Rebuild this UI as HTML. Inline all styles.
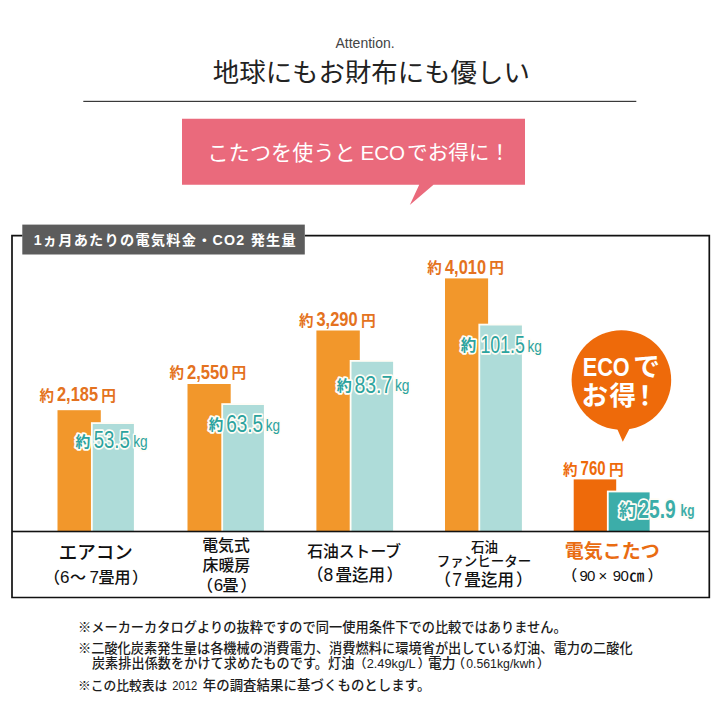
<!DOCTYPE html>
<html lang="ja"><head><meta charset="utf-8"><title>ECO</title>
<style>
html,body{margin:0;padding:0;background:#fff;}
body{width:720px;height:720px;position:relative;overflow:hidden;font-family:"Liberation Sans",sans-serif;}
.t{position:absolute;color:transparent;white-space:nowrap;overflow:hidden;line-height:1;font-family:"Liberation Sans",sans-serif;}
svg text{font-family:"Liberation Sans","Noto Sans CJK JP",sans-serif;}
.halo{paint-order:stroke;stroke:#fffdf6;stroke-width:3.6;stroke-linejoin:round;}
</style></head><body>
<svg width="720" height="720" viewBox="0 0 720 720" style="position:absolute;left:0;top:0;display:block">
<text x="335.5" y="47.5" font-size="14" fill="#444">Attention.</text>
<text x="212.8" y="82.4" font-size="26.4" fill="#222" textLength="317" lengthAdjust="spacing">地球にもお財布にも優しい</text>
<rect x="83.3" y="100.8" width="553" height="1.2" fill="#3a3a3a"/>
<path d="M182 118.7H525V184.7H433.5L409.8 205L419.2 184.7H182Z" fill="#ea6a7c"/>
<text x="207.6" y="160.4" font-size="21" fill="#fff" textLength="148" lengthAdjust="spacing">こたつを使うと</text>
<text x="360.5" y="160.2" font-size="20.6" fill="#fff">ECO</text>
<text x="407.1" y="160.3" font-size="20.6" fill="#fff">でお得に！</text>
<path d="M22.5 235.6H12V597.5H709.3V235.6H304.8" fill="none" stroke="#111" stroke-width="1.7"/>
<rect x="22.3" y="224.6" width="282.5" height="29.9" fill="#5c5c5c"/>
<text x="33.7" y="244.9" font-size="14.2" font-weight="bold" fill="#fff" textLength="262" lengthAdjust="spacing">1ヵ月あたりの電気料金・CO2 発生量</text>
<rect x="57.50" y="410.20" width="43.30" height="121.30" fill="#f2972b"/>
<rect x="90.95" y="422.20" width="42.95" height="109.30" fill="#fffdf6"/>
<rect x="92.75" y="424.00" width="41.15" height="107.50" fill="#aedcd9"/>
<rect x="187.50" y="384.00" width="43.20" height="147.50" fill="#f2972b"/>
<rect x="221.30" y="403.20" width="42.60" height="128.30" fill="#fffdf6"/>
<rect x="223.10" y="405.00" width="40.80" height="126.50" fill="#aedcd9"/>
<rect x="316.40" y="330.50" width="43.40" height="201.00" fill="#f2972b"/>
<rect x="349.70" y="360.00" width="43.40" height="171.50" fill="#fffdf6"/>
<rect x="351.50" y="361.80" width="41.60" height="169.70" fill="#aedcd9"/>
<rect x="445.00" y="278.40" width="43.10" height="253.10" fill="#f2972b"/>
<rect x="478.40" y="323.70" width="43.50" height="207.80" fill="#fffdf6"/>
<rect x="480.20" y="325.50" width="41.70" height="206.00" fill="#aedcd9"/>
<rect x="573.70" y="479.40" width="42.50" height="52.10" fill="#ee6a0a"/>
<rect x="606.90" y="490.60" width="42.70" height="40.90" fill="#fffdf6"/>
<rect x="608.70" y="492.40" width="40.90" height="39.10" fill="#3cada9"/>
<rect x="12" y="530.7" width="697.3" height="1.6" fill="#111"/>
<text x="39.4" y="400.9" font-size="14.5" font-weight="bold" fill="#e47220">約</text>
<text x="57" y="401.3" font-size="21" font-weight="bold" fill="#e47220" textLength="41" lengthAdjust="spacingAndGlyphs">2,185</text>
<text x="101.2" y="400.9" font-size="14.7" font-weight="bold" fill="#e47220">円</text>
<text x="169.4" y="378.4" font-size="14.5" font-weight="bold" fill="#e47220">約</text>
<text x="187" y="378.8" font-size="21" font-weight="bold" fill="#e47220" textLength="41.5" lengthAdjust="spacingAndGlyphs">2,550</text>
<text x="231.4" y="378.4" font-size="14.7" font-weight="bold" fill="#e47220">円</text>
<text x="298.9" y="325.7" font-size="14.5" font-weight="bold" fill="#e47220">約</text>
<text x="316.5" y="326.1" font-size="21" font-weight="bold" fill="#e47220" textLength="41" lengthAdjust="spacingAndGlyphs">3,290</text>
<text x="360.9" y="325.7" font-size="14.7" font-weight="bold" fill="#e47220">円</text>
<text x="427.2" y="273.4" font-size="14.5" font-weight="bold" fill="#e47220">約</text>
<text x="445" y="273.8" font-size="21" font-weight="bold" fill="#e47220" textLength="41" lengthAdjust="spacingAndGlyphs">4,010</text>
<text x="489.2" y="273.4" font-size="14.7" font-weight="bold" fill="#e47220">円</text>
<text x="562.9" y="474.8" font-size="14.5" font-weight="bold" fill="#ee6a0a">約</text>
<text x="580.6" y="475.2" font-size="21" font-weight="bold" fill="#ee6a0a" textLength="25" lengthAdjust="spacingAndGlyphs">760</text>
<text x="608.9" y="474.8" font-size="14.7" font-weight="bold" fill="#ee6a0a">円</text>
<text class="halo" x="75.6" y="446.6" font-size="14.8" font-weight="bold" fill="#2ca39f">約</text>
<text class="halo" x="93.7" y="448.4" font-size="24" fill="#2ca39f" textLength="36" lengthAdjust="spacingAndGlyphs">53.5</text>
<text class="halo" x="133.2" y="447" font-size="17" fill="#2ca39f" textLength="14.5" lengthAdjust="spacingAndGlyphs">kg</text>
<text class="halo" x="208.8" y="430.2" font-size="14.5" font-weight="bold" fill="#2ca39f">約</text>
<text class="halo" x="226.2" y="432.3" font-size="24" fill="#2ca39f" textLength="37" lengthAdjust="spacingAndGlyphs">63.5</text>
<text class="halo" x="265.7" y="430.6" font-size="17" fill="#2ca39f" textLength="14.3" lengthAdjust="spacingAndGlyphs">kg</text>
<text class="halo" x="336.7" y="390.8" font-size="15" font-weight="bold" fill="#2ca39f">約</text>
<text class="halo" x="354.4" y="392.7" font-size="24" fill="#2ca39f" textLength="38" lengthAdjust="spacingAndGlyphs">83.7</text>
<text class="halo" x="394.9" y="390.6" font-size="17" fill="#2ca39f" textLength="14.6" lengthAdjust="spacingAndGlyphs">kg</text>
<text class="halo" x="460.8" y="351.2" font-size="15.5" font-weight="bold" fill="#2ca39f">約</text>
<text class="halo" x="480.4" y="353.4" font-size="24" fill="#2ca39f" textLength="44.5" lengthAdjust="spacingAndGlyphs">101.5</text>
<text class="halo" x="527.5" y="351.5" font-size="17" fill="#2ca39f" textLength="14.4" lengthAdjust="spacingAndGlyphs">kg</text>
<text class="halo" x="619.1" y="517.4" font-size="17" font-weight="bold" fill="#3cada9">約</text>
<text class="halo" x="638.3" y="518.4" font-size="25" font-weight="bold" fill="#3cada9" textLength="37.4" lengthAdjust="spacingAndGlyphs">25.9</text>
<text class="halo" x="680.6" y="515.5" font-size="17" font-weight="bold" fill="#3cada9" textLength="14" lengthAdjust="spacingAndGlyphs">kg</text>
<circle cx="621.4" cy="380" r="49.8" fill="#ee6a0a"/>
<path d="M616.4 427L622.8 441.8L630.4 427Z" fill="#ee6a0a"/>
<text x="582.7" y="375.9" font-size="26" font-weight="bold" fill="#fff" textLength="47" lengthAdjust="spacingAndGlyphs">ECO</text>
<text x="633.2" y="376" font-size="26.7" font-weight="bold" fill="#fff">で</text>
<text x="581.5 609.6 631.8" y="404.6" font-size="26.5" font-weight="bold" fill="#fff">お得！</text>
<text x="58.8" y="559.2" font-size="18.5" font-weight="500" fill="#111">エアコン</text>
<text x="44 59.9 70 89.4 98.5 114.6 132" y="583.4" font-size="16" font-weight="500" fill="#111">（<tspan font-size="17">6</tspan>〜<tspan font-size="17">7</tspan>畳用）</text>
<text x="202.2" y="551.4" font-size="15.9" font-weight="500" fill="#111">電気式</text>
<text x="202.5" y="571" font-size="15.9" font-weight="500" fill="#111">床暖房</text>
<text x="197 213.8 222.5 240.5" y="591.4" font-size="16" font-weight="500" fill="#111">（<tspan font-size="17">6</tspan>畳）</text>
<text x="307.2" y="557.4" font-size="15.8" font-weight="500" fill="#111">石油ストーブ</text>
<text x="307 323.4 332 335.5 352 368.5 386.5" y="581" font-size="16.5" font-weight="500" fill="#111">（<tspan font-size="17.5">8</tspan> 畳迄用）</text>
<text x="471" y="552.2" font-size="13.5" font-weight="500" fill="#111">石油</text>
<text x="436.8" y="565.9" font-size="13.5" font-weight="500" fill="#111">ファンヒーター</text>
<text x="434.5 452.3 461 464.2 480.9 497.6 516" y="585.8" font-size="16.5" font-weight="500" fill="#111">（<tspan font-size="17.5">7</tspan> 畳迄用）</text>
<text x="564.7" y="558.1" font-size="19" font-weight="bold" fill="#e96c12">電気こたつ</text>
<text x="562.3 579.6 587 598.5 612.8 620.5 629.3 647.5" y="581.2" font-size="15" font-weight="500" fill="#111">（90×90㎝）</text>
<text x="77.95" y="632.3" font-size="13.2" font-weight="500" fill="#1c1c1c" textLength="488.8" lengthAdjust="spacing">※メーカーカタログよりの抜粋ですので同一使用条件下での比較ではありません。</text>
<text x="77.95" y="652.7" font-size="13.2" font-weight="500" fill="#1c1c1c" textLength="554.8" lengthAdjust="spacing">※二酸化炭素発生量は各機械の消費電力、消費燃料に環境省が出している灯油、電力の二酸化</text>
<text x="91.9" y="668.1" font-size="13.1" font-weight="500" fill="#1c1c1c" textLength="262.4" lengthAdjust="spacing">炭素排出係数をかけて求めたものです。灯油</text>
<text x="354" y="668.4" font-size="12.5" font-weight="500" fill="#1c1c1c">（</text>
<text x="366.7" y="668" font-size="13.2" fill="#1c1c1c" textLength="49" lengthAdjust="spacingAndGlyphs">2.49kg/L</text>
<text x="417.7" y="668.4" font-size="12.5" font-weight="500" fill="#1c1c1c">）</text>
<text x="427.95" y="668.1" font-size="13.8" font-weight="500" fill="#1c1c1c">電力</text>
<text x="452.4" y="668.4" font-size="12.5" font-weight="500" fill="#1c1c1c">（</text>
<text x="466.2" y="668" font-size="13.2" fill="#1c1c1c" textLength="69" lengthAdjust="spacingAndGlyphs">0.561kg/kwh</text>
<text x="536.9" y="668.4" font-size="12.5" font-weight="500" fill="#1c1c1c">）</text>
<text x="78" y="689.9" font-size="12.75" font-weight="500" fill="#1c1c1c" textLength="89.2" lengthAdjust="spacing">※この比較表は</text>
<text x="172.2" y="689.8" font-size="12.5" fill="#1c1c1c" textLength="25" lengthAdjust="spacingAndGlyphs">2012</text>
<text x="202.7" y="689.8" font-size="13.4" font-weight="500" fill="#1c1c1c" textLength="227.6" lengthAdjust="spacing">年の調査結果に基づくものとします。</text>
</svg>
<div class="txt"><div class="t" style="left:335px;top:35px;width:66px;height:14px;font-size:14px">Attention.</div><div class="t" style="left:213px;top:58px;width:316px;height:28px;font-size:26px">地球にもお財布にも優しい</div><div class="t" style="left:211px;top:141px;width:292px;height:22px;font-size:20px">こたつを使うと ECO でお得に！</div><div class="t" style="left:34px;top:232px;width:262px;height:16px;font-size:14px">1ヵ月あたりの電気料金・CO2 発生量</div><div class="t" style="left:39px;top:385px;width:76px;height:17px;font-size:15px">約2,185円</div><div class="t" style="left:75px;top:430px;width:73px;height:19px;font-size:17px">約53.5kg</div><div class="t" style="left:169px;top:363px;width:76px;height:17px;font-size:15px">約2,550円</div><div class="t" style="left:209px;top:414px;width:72px;height:19px;font-size:17px">約63.5kg</div><div class="t" style="left:298px;top:310px;width:76px;height:17px;font-size:15px">約3,290円</div><div class="t" style="left:336px;top:374px;width:74px;height:19px;font-size:17px">約83.7kg</div><div class="t" style="left:427px;top:258px;width:76px;height:17px;font-size:15px">約4,010円</div><div class="t" style="left:460px;top:335px;width:82px;height:19px;font-size:17px">約101.5kg</div><div class="t" style="left:562px;top:459px;width:62px;height:17px;font-size:15px">約760円</div><div class="t" style="left:619px;top:500px;width:76px;height:19px;font-size:17px">約25.9kg</div><div class="t" style="left:581px;top:355px;width:78px;height:24px;font-size:22px">ECOで</div><div class="t" style="left:583px;top:381px;width:64px;height:26px;font-size:22px">お得！</div><div class="t" style="left:59px;top:544px;width:74px;height:18px;font-size:17px">エアコン</div><div class="t" style="left:53px;top:566px;width:85px;height:20px;font-size:15px">（6〜7畳用）</div><div class="t" style="left:202px;top:537px;width:48px;height:17px;font-size:15px">電気式</div><div class="t" style="left:202px;top:556px;width:48px;height:17px;font-size:15px">床暖房</div><div class="t" style="left:206px;top:576px;width:40px;height:18px;font-size:15px">（6畳）</div><div class="t" style="left:306px;top:542px;width:96px;height:18px;font-size:15px">石油ストーブ</div><div class="t" style="left:316px;top:565px;width:76px;height:19px;font-size:15px">（8 畳迄用）</div><div class="t" style="left:470px;top:540px;width:28px;height:15px;font-size:13px">石油</div><div class="t" style="left:438px;top:554px;width:93px;height:15px;font-size:13px">ファンヒーター</div><div class="t" style="left:444px;top:570px;width:78px;height:19px;font-size:15px">（7 畳迄用）</div><div class="t" style="left:565px;top:541px;width:94px;height:20px;font-size:18px">電気こたつ</div><div class="t" style="left:571px;top:566px;width:82px;height:18px;font-size:14px">（90×90㎝）</div><div class="t" style="left:79px;top:620px;width:482px;height:15px;font-size:13px">※メーカーカタログよりの抜粋ですので同一使用条件下での比較ではありません。</div><div class="t" style="left:79px;top:640px;width:556px;height:15px;font-size:13px">※二酸化炭素発生量は各機械の消費電力、消費燃料に環境省が出している灯油、電力の二酸化</div><div class="t" style="left:92px;top:655px;width:452px;height:15px;font-size:13px">炭素排出係数をかけて求めたものです。灯油（2.49kg/L）電力（0.561kg/kwh）</div><div class="t" style="left:79px;top:677px;width:344px;height:15px;font-size:13px">※この比較表は 2012 年の調査結果に基づくものとします。</div></div>
</body></html>
